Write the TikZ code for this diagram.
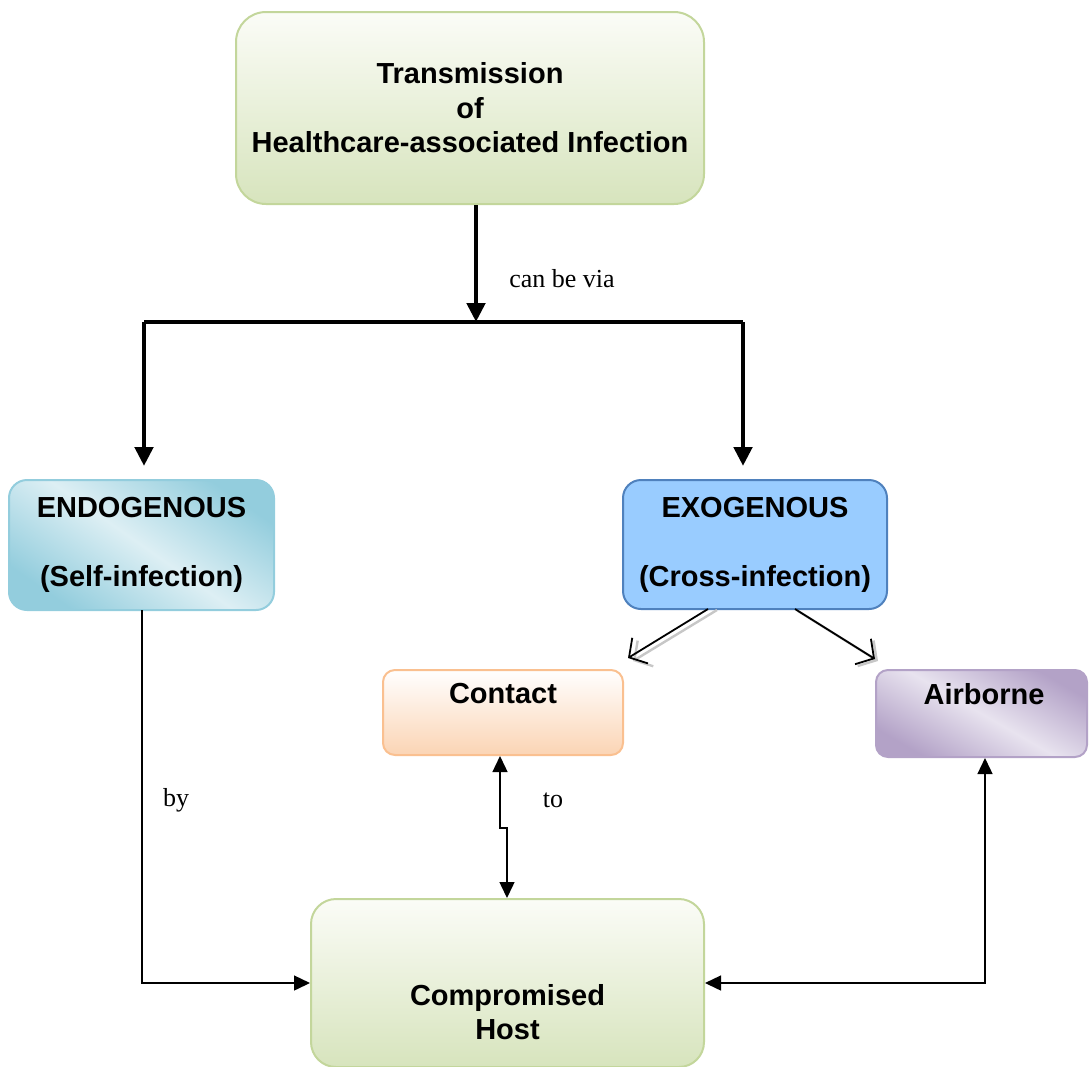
\documentclass[tikz,border=0pt]{standalone}
\usepackage{fontspec}
\setmainfont{Liberation Serif}
\setsansfont{Liberation Sans}
\usetikzlibrary{arrows.meta,calc}
\definecolor{grB}{HTML}{C3D69B}
\definecolor{grD}{HTML}{D7E4BD}
\definecolor{grL}{HTML}{FBFCF7}
\definecolor{blB}{HTML}{93CDDD}
\definecolor{blD}{HTML}{93CDDD}
\definecolor{blL}{HTML}{DDEFF4}
\definecolor{exF}{HTML}{99CCFF}
\definecolor{exB}{HTML}{4F81BD}
\definecolor{orB}{HTML}{FAC090}
\definecolor{orD}{HTML}{FBD4B4}
\definecolor{puB}{HTML}{B3A2C7}
\definecolor{puD}{HTML}{B3A2C7}
\definecolor{puL}{HTML}{E8E3EF}
\tikzset{
  box/.style={draw, line width=2pt, inner sep=0pt, align=center,
    font=\sffamily\bfseries\fontsize{29}{34.5}\selectfont},
  btxt/.style={inner sep=0pt, align=center,
    font=\sffamily\bfseries\fontsize{29}{34.5}\selectfont},
  lbl/.style={inner sep=0pt, font=\fontsize{26}{30}\selectfont},
  thickarr/.style={line width=4.8pt, -{Triangle[width=18pt,length=19pt]}},
  thinline/.style={line width=1.4pt},
  ttip/.tip={Triangle[width=15pt,length=16pt]},
  openarr/.style={line width=1.8pt, -{Straight Barb[length=13pt,width=30pt,line width=1.8pt]}},
  shadowarr/.style={line width=2.4pt, black!22, -{Straight Barb[length=13pt,width=30pt,line width=2.4pt]}}
}
\begin{document}
\begin{tikzpicture}[x=1pt,y=-1pt]
\useasboundingbox (0,0) rectangle (1089,1066);
\clip (0,0) rectangle (1089,1066);

% boxes
\node[box, draw=grB, rounded corners=30pt, top color=grL, bottom color=grD,
      minimum width=468pt, minimum height=192pt] (top) at (470,108)
      {Transmission\\of\\Healthcare-associated Infection};
\node[box, draw=blB, rounded corners=18pt, top color=blD, bottom color=blD, middle color=blL, shading angle=-35,
      minimum width=265pt, minimum height=130pt] (endo) at (141.5,545)
      {ENDOGENOUS\\[34.5pt](Self-infection)};
\node[box, draw=exB, rounded corners=18pt, fill=exF,
      minimum width=264pt, minimum height=129pt] (exo) at (755,544.5)
      {EXOGENOUS\\[34.5pt](Cross-infection)};
\node[box, draw=orB, rounded corners=12pt, top color=white, bottom color=orD,
      minimum width=240pt, minimum height=85pt] (con) at (503,712.5) {};
\node[btxt] (conT) at (503,694) {Contact};
\node[box, draw=puB, rounded corners=12pt, top color=puD, bottom color=puD, middle color=puL, shading angle=-30,
      minimum width=211pt, minimum height=87pt] (air) at (981.5,713.5) {};
\node[btxt] (airT) at (984,694) {Airborne};
\node[box, draw=grB, rounded corners=25pt, top color=grL, bottom color=grD,
      minimum width=393pt, minimum height=168pt] (host) at (507.5,983) {};
\node[btxt] (hostT) at (507.5,1012) {Compromised\\Host};

% thick connectors
\coordinate (j) at (476,322);
\coordinate (bl) at (144,322);
\coordinate (br) at (743,322);
\draw[thickarr] (top.south -| j) -- (j);
\draw[line width=4.8pt] (bl) -- (br);
\draw[thickarr, shorten >=13pt] (bl) -- (bl |- endo.north);
\draw[thickarr, shorten >=13pt] (br) -- (br |- exo.north);
\node[lbl] (via) at (562,279) {can be via};

% endogenous -> host
\coordinate (e1) at (142,610);
\draw[thinline, -{ttip}] (e1) |- (host.west);
\node[lbl] (by) at (176,800) {by};

% contact <-> host
\coordinate (k1) at (500,828);
\coordinate (k2) at (507,828);
\draw[thinline, {ttip}-{ttip}] (con.south -| k1) -- (k1) -- (k2) -- (host.north -| k2);
\node[lbl] (to) at (553,800) {to};

% airborne <-> host
\coordinate (a1) at (985,828);
\draw[thinline, {ttip}-{ttip}] (air.south -| a1) -- (a1) |- (host.east);

% exogenous -> contact / airborne (open arrows with shadow)
\coordinate (s1) at (708,609);
\coordinate (s2) at (795,609);
\coordinate (t1) at (628,658);
\coordinate (t2) at (875,659);
\draw[shadowarr] ($(s1)+(9,1)$) -- ($(t1)+(5,3)$);
\draw[shadowarr] ($(s2)+(3,2)$) -- ($(t2)+(3,2)$);
\draw[openarr] (s1) -- (t1);
\draw[openarr] (s2) -- (t2);
\end{tikzpicture}
\end{document}
